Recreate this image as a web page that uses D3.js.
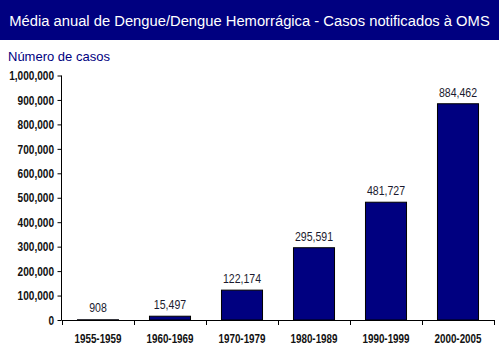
<!DOCTYPE html>
<html><head><meta charset="utf-8">
<script src="https://cdn.jsdelivr.net/npm/d3@7"></script>
<style>body{margin:0;background:#fff}</style>
</head><body>
<svg id="c" width="499" height="360"></svg>
<script>
const categories = ["1955-1959","1960-1969","1970-1979","1980-1989","1990-1999","2000-2005"];
const values = [908, 15497, 122174, 295591, 481727, 884462];
const yTicks = [0,100000,200000,300000,400000,500000,600000,700000,800000,900000,1000000];
const title = "Média anual de Dengue/Dengue Hemorrágica - Casos notificados à OMS";
const yTitle = "Número de casos";

const svg = d3.select("#c");
const sans = "'Liberation Sans',Arial,sans-serif";
svg.append("rect").attr("x",0).attr("y",0).attr("width",499).attr("height",40).attr("fill","#000080");
const t = svg.append("text").attr("x",249.5).attr("y",26).attr("text-anchor","middle")
  .attr("fill","#fff").attr("font-family",sans).attr("font-size",16).text(title);
const w = t.node().getComputedTextLength();
if (w > 481) t.attr("font-size", 16*481/w);
svg.append("text").attr("x",8).attr("y",61).attr("fill","#000080")
  .attr("font-family",sans).attr("font-size",13).text(yTitle);

const x = d3.scaleBand().domain(categories).range([62,494]).paddingInner(0.43).paddingOuter(0.215);
const y = d3.scaleLinear().domain([0,1000000]).range([320,75.5]);
const fmt = d3.format(",");

const gy = svg.append("g").attr("transform","translate(62,0)")
  .call(d3.axisLeft(y).tickValues(yTicks).tickFormat(fmt).tickSize(4).tickPadding(4));
gy.select(".domain").attr("d","M-0.5,75.5V320.5").attr("stroke","#000");
gy.selectAll(".tick line").attr("stroke","#000").attr("transform","translate(-0.5,0)");
gy.selectAll("text").attr("font-family",sans).attr("font-weight","bold").attr("font-size",12)
  .attr("fill","#111").attr("dy","0.35em").attr("x",0).attr("transform","translate(-8,0) scale(0.84,1)");

svg.append("g").selectAll("rect").data(values).join("rect")
  .attr("x",(d,i)=>x(categories[i])).attr("width",x.bandwidth())
  .attr("y",d=>y(d)).attr("height",d=>y(0)-y(d))
  .attr("fill","#000080").attr("stroke","#000").attr("stroke-width",1);

const gx = svg.append("g").attr("transform","translate(0,320)")
  .call(d3.axisBottom(x).tickSize(0).tickPadding(14));
gx.select(".domain").attr("d","M62,0.5H495").attr("stroke","#000");
gx.selectAll("text").attr("font-family",sans).attr("font-weight","bold").attr("font-size",12)
  .attr("fill","#111").attr("transform","scale(0.82,1)");
const xt = svg.append("g");
const edges = categories.map(c=>x(c)-x.step()*x.paddingInner()/2).concat([494]);
xt.selectAll("line").data(edges).join("line")
  .attr("x1",d=>Math.round(d)+0.5).attr("x2",d=>Math.round(d)+0.5).attr("y1",320).attr("y2",325).attr("stroke","#000");

svg.append("g").selectAll("text").data(values).join("text")
  .attr("transform",(d,i)=>`translate(${x(categories[i])+x.bandwidth()/2},${Math.min(y(d)-7,312)}) scale(0.88,1)`)
  .attr("text-anchor","middle").attr("font-family",sans).attr("font-size",12).attr("fill","#1a1a2e")
  .text(d=>fmt(d));
</script>
</body></html>
